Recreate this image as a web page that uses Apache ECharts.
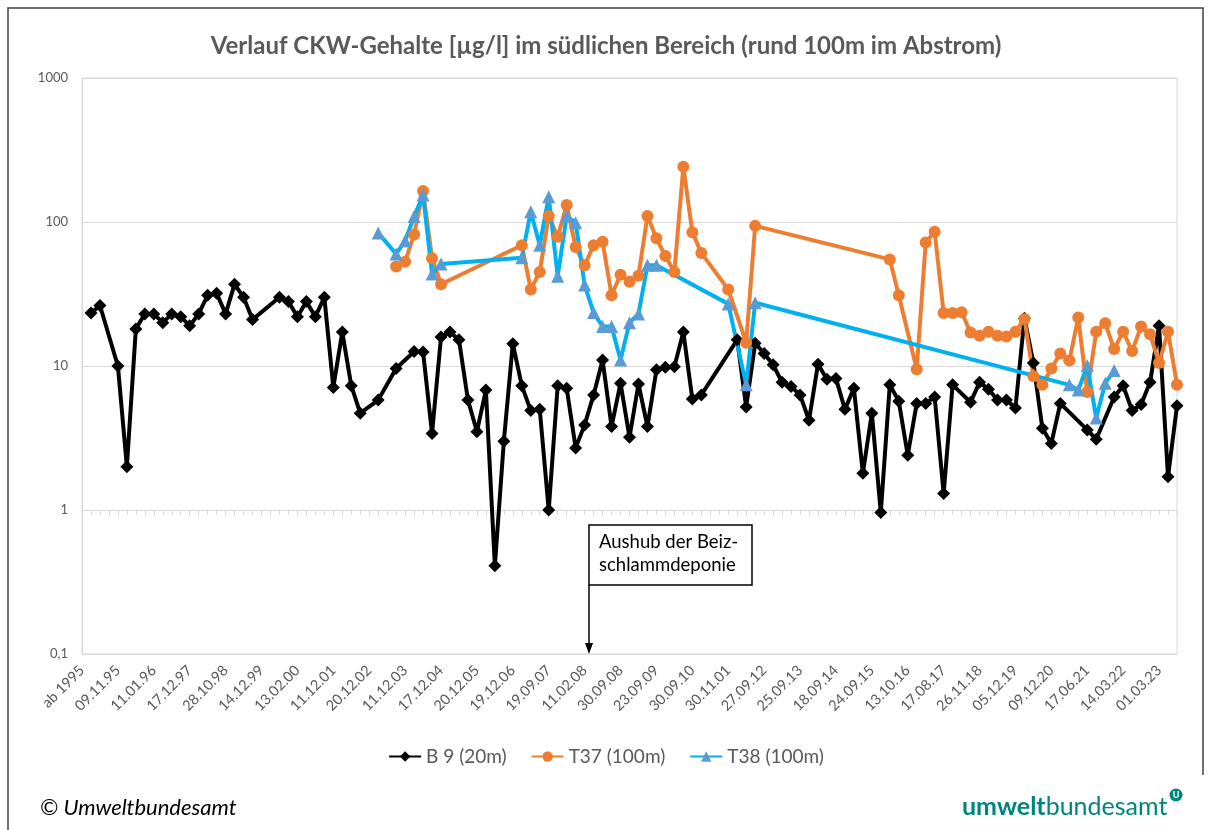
<!DOCTYPE html>
<html>
<head>
<meta charset="utf-8">
<script src="https://cdn.jsdelivr.net/npm/echarts@6/dist/echarts.min.js"></script>
<style>
  html, body { margin: 0; padding: 0; background: #fff; }
  #chart { width: 1212px; height: 830px; }
</style>
</head>
<body>
<div id="chart"></div>
<script>
// labels shown on the x axis (every 4th sampling date)
var tickLabels = ['ab 1995', '09.11.95', '11.01.96', '17.12.97', '28.10.98', '14.12.99', '13.02.00',
    '11.12.01', '20.12.02', '11.12.03', '17.12.04', '20.12.05', '19.12.06', '19.09.07', '11.02.08',
    '30.09.08', '23.09.09', '30.09.10', '30.11.01', '27.09.12', '25.09.13', '18.09.14', '24.09.15',
    '13.10.16', '17.08.17', '26.11.18', '05.12.19', '09.12.20', '17.06.21', '14.03.22', '01.03.23'];
var nDates = 123;

// values in µg/l, one per sampling date, null = no measurement
var b9 = [null, 23.3, 26.3, null, 10, 2.0, 18.1, 23, 23, 20, 23, 22, 19, 23, 31, 32, 23, 37, 30, 21,
    null, null, 30, 28, 22, 28, 22, 30, 7.1, 17.2, 7.3, 4.7, null, 5.8, null, 9.6, null, 12.6, 12.5, 3.4,
    15.9, 17.2, 15.2, 5.8, 3.5, 6.8, 0.41, 3.0, 14.3, 7.3, 4.9, 5.0, 1.0, 7.3, 7.0, 2.7, 3.9, 6.3, 11.0, 3.8,
    7.6, 3.2, 7.5, 3.8, 9.4, 9.8, 9.9, 17.2, 5.9, 6.3, null, null, null, 15.2, 5.2, 14.4, 12.2, 10.2, 7.7, 7.2,
    6.3, 4.2, 10.3, 8.1, 8.2, 5.0, 7.0, 1.8, 4.7, 0.96, 7.4, 5.7, 2.4, 5.5, 5.5, 6.1, 1.3, 7.4, null, 5.6,
    7.7, 6.9, 5.8, 5.8, 5.1, 21.5, 10.5, 3.7, 2.9, 5.5, null, null, 3.6, 3.1, null, 6.1, 7.3, 4.9, 5.4, 7.7,
    19, 1.7, 5.3];

var t37 = [null, null, null, null, null, null, null, null, null, null, null, null, null, null, null, null,
    null, null, null, null, null, null, null, null, null, null, null, null, null, null, null, null, null, null,
    null, 49, 53, 82, 164, 56, 37, null, null, null, null, null, null, null, null, 69, 34, 45, 110, 79, 131,
    67, 50, 69, 73, 31, 43, 38.5, 42.4, 110, 77, 58, 45, 242, 85, 61, null, null, 34, null, 14.5, 94,
    null, null, null, null, null, null, null, null, null, null, null, null, null, null, 55, 31, null, 9.5,
    72, 85.5, 23.3, 23.3, 23.6, 17.1, 16.2, 17.3, 16.2, 16.0, 17.3, 21.2, 8.5, 7.4, 9.6, 12.2, 10.9, 21.7,
    6.6, 17.3, 19.8, 13.1, 17.3, 12.7, 18.8, 16.6, 10.5, 17.3, 7.4];

var t38 = [null, null, null, null, null, null, null, null, null, null, null, null, null, null, null, null,
    null, null, null, null, null, null, null, null, null, null, null, null, null, null, null, null, null, 84,
    null, 60, 74, 109, 154, 43.5, 51, null, null, null, null, null, null, null, null, 56.5, 118, 69, 150, 42,
    110, 99, 36.5, 23.5, 18.8, 18.8, 11.0, 20, 23, 50, 50, null, null, null, null, null, null, null, 27, null,
    7.4, 27.5, null, null, null, null, null, null, null, null, null, null, null, null, null, null, null, null,
    null, null, null, null, null, null, null, null, null, null, null, null, null, null, null, null, null, null,
    7.4, 6.8, 10.1, 4.35, 7.6, 9.3, null, null, null, null, null, null, null, null];

var categories = [];
for (var i = 0; i < nDates; i++) {
    categories.push(i % 4 === 0 ? tickLabels[i / 4] : '');
}

var FONT = 'Lato';
var GREY = '#595959';
var GRID = '#d9d9d9';
var TEAL = '#00857c';

var myChart = echarts.init(document.getElementById('chart'));
var option = {
    backgroundColor: '#fff',
    animation: false,
    title: {
        text: 'Verlauf CKW-Gehalte [µg/l] im südlichen Bereich (rund 100m im Abstrom)',
        left: 'center',
        top: 29,
        textStyle: { fontFamily: FONT, fontSize: 24, fontWeight: 'bold', color: GREY }
    },
    legend: {
        top: 742,
        left: 'center',
        itemWidth: 32,
        itemHeight: 13,
        itemGap: 24,
        itemTextGap: 4,
        textStyle: { fontFamily: FONT, fontSize: 19, color: GREY },
        data: ['B 9 (20m)', 'T37 (100m)', 'T38 (100m)']
    },
    grid: [
        { left: 82, right: 35, top: 78, bottom: 176, show: true, borderColor: GRID, borderWidth: 1 },
        // helper grid: its bottom edge sits on the value 1 line, where the ticks are
        { left: 82, right: 35, top: 400, bottom: 320 }
    ],
    xAxis: [
        {
            type: 'category',
            gridIndex: 0,
            data: categories,
            boundaryGap: false,
            axisLine: { lineStyle: { color: GRID } },
            axisTick: { show: false },
            axisLabel: {
                interval: 0,
                rotate: 45,
                margin: 14,
                fontFamily: FONT,
                fontSize: 14.5,
                color: GREY
            }
        },
        {
            type: 'category',
            gridIndex: 1,
            data: categories,
            boundaryGap: false,
            axisLine: { lineStyle: { color: GRID } },
            axisTick: { show: true, interval: 0, length: 5, lineStyle: { color: GRID } },
            axisLabel: { show: false }
        }
    ],
    yAxis: [
        {
            type: 'log',
            gridIndex: 0,
            logBase: 10,
            min: 0.1,
            max: 1000,
            axisLine: { show: true, lineStyle: { color: GRID } },
            axisTick: { show: false },
            splitLine: { lineStyle: { color: GRID } },
            axisLabel: {
                margin: 14,
                fontFamily: FONT,
                fontSize: 13,
                color: GREY,
                formatter: function (v) { return String(+v.toPrecision(3)).replace('.', ','); }
            }
        },
        { type: 'value', gridIndex: 1, show: false }
    ],
    series: [
        {
            name: 'B 9 (20m)',
            type: 'line',
            data: b9,
            connectNulls: true,
            symbol: 'diamond',
            symbolSize: 13,
            lineStyle: { color: '#000', width: 4 },
            itemStyle: { color: '#000' }
        },
        {
            name: 'T37 (100m)',
            type: 'line',
            data: t37,
            connectNulls: true,
            symbol: 'circle',
            symbolSize: 12,
            lineStyle: { color: '#ed7d31', width: 4 },
            itemStyle: { color: '#ed7d31' }
        },
        {
            name: 'T38 (100m)',
            type: 'line',
            data: t38,
            connectNulls: true,
            symbol: 'triangle',
            symbolSize: 13,
            lineStyle: { color: '#00b0f0', width: 4 },
            itemStyle: { color: '#5b9bd5' }
        }
    ],
    graphic: [
        // outer frame
        { type: 'polyline', silent: true, shape: { points: [[8, 830], [8, 8], [1203, 8], [1203, 775]] },
          style: { stroke: '#404040', lineWidth: 1.5, fill: null } },
        // annotation box with arrow
        { type: 'rect', shape: { x: 589, y: 525, width: 163, height: 60 },
          style: { fill: '#fff', stroke: '#000', lineWidth: 1.5 }, z: 10 },
        { type: 'text', left: 599, top: 531, z: 11,
          style: { text: 'Aushub der Beiz-\nschlammdeponie', fontFamily: FONT, fontSize: 18.5, lineHeight: 23, fill: '#000' } },
        { type: 'line', shape: { x1: 589, y1: 585, x2: 589, y2: 646 }, style: { stroke: '#000', lineWidth: 1.5 }, z: 10 },
        { type: 'polygon', shape: { points: [[585, 643], [593, 643], [589, 654]] }, style: { fill: '#000' }, z: 10 },
        // footer
        { type: 'text', left: 40, top: 797,
          style: { text: '© Umweltbundesamt', fontFamily: FONT, fontStyle: 'italic', fontSize: 22, fill: '#000' } },
        { type: 'text', left: 962, top: 794,
          style: {
              text: '{a|umwelt}{b|bundesamt}',
              rich: {
                  a: { fontFamily: FONT, fontSize: 25, fontWeight: 'bold', fill: TEAL },
                  b: { fontFamily: FONT, fontSize: 25, fill: TEAL }
              }
          } },
        { type: 'circle', shape: { cx: 1176, cy: 795, r: 6.5 }, style: { fill: TEAL } },
        { type: 'text', x: 1176, y: 795,
          style: { text: 'U', fontFamily: FONT, fontSize: 9, fontWeight: 'bold', fill: '#fff', align: 'center', verticalAlign: 'middle' } }
    ]
};

myChart.setOption(option);
</script>
</body>
</html>
